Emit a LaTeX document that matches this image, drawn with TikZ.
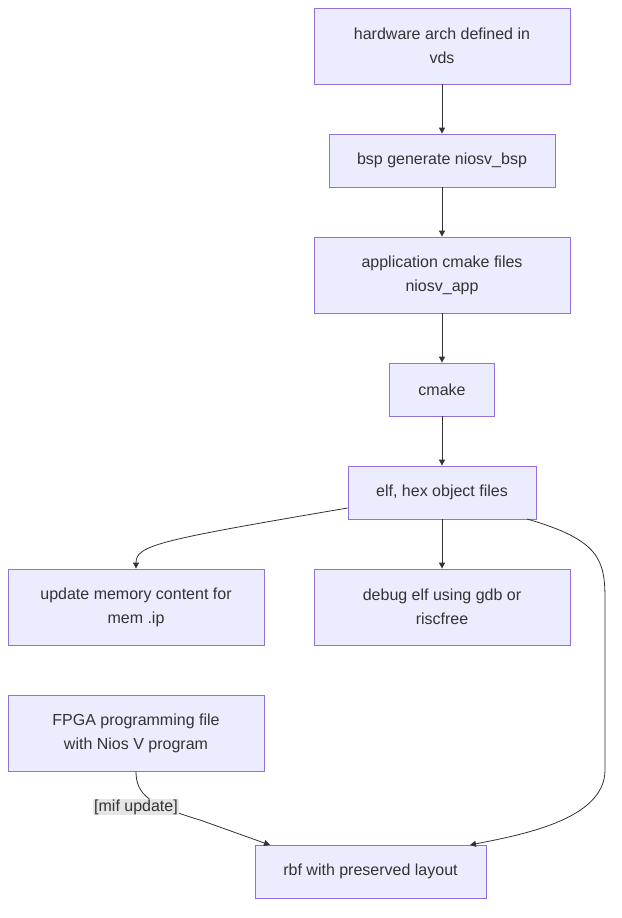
\documentclass[tikz,border=0pt]{standalone}
\usepackage{fontspec}
\setmainfont{Liberation Sans}
\usetikzlibrary{arrows.meta}
\definecolor{boxfill}{HTML}{ECECFF}
\definecolor{boxline}{HTML}{9370DB}
\definecolor{edge}{HTML}{333333}
\begin{document}
\begin{tikzpicture}[x=1pt, y=-1pt,
    stage/.style = {draw=boxline, fill=boxfill, line width=0.8pt, align=center,
        font=\fontsize{16}{24}\selectfont, text=edge, inner sep=0pt},
    flow/.style = {draw=edge, line width=0.8pt, -{Triangle[length=6pt,width=6pt]}}]

    \useasboundingbox (0,0) rectangle (621,918);

    % Boxes
    \node[stage, minimum width=256pt, minimum height=76pt] (hw) at (442,46) {hardware arch defined in\\vds};
    \node[stage, minimum width=226pt, minimum height=53pt] (bsp) at (442,160.5) {bsp generate niosv\_bsp};
    \node[stage, minimum width=256pt, minimum height=76pt] (app) at (442,275) {application cmake files\\niosv\_app};
    \node[stage, minimum width=105pt, minimum height=53pt] (cm) at (442,389.5) {cmake};
    \node[stage, minimum width=188pt, minimum height=53pt] (elf) at (442,492.5) {elf, hex object files};
    \node[stage, minimum width=256pt, minimum height=76pt] (mem) at (136,607) {update memory content for\\mem .ip};
    \node[stage, minimum width=256pt, minimum height=76pt] (dbg) at (442,607) {debug elf using gdb or\\riscfree};
    \node[stage, minimum width=256pt, minimum height=76pt] (fpga) at (136,733) {FPGA programming file\\with Nios V program};
    \node[stage, minimum width=231pt, minimum height=53pt] (rbf) at (370.5,871.5) {rbf with preserved layout};

    % Arrows
    \draw[flow] (hw) -- (bsp);
    \draw[flow] (bsp) -- (app);
    \draw[flow] (app) -- (cm);
    \draw[flow] (cm) -- (elf);
    \draw[flow] (elf) -- (dbg);
    \draw[flow] (elf.west |- 0,508) .. controls (160,540) and (136,545) .. (mem.north);
    \draw[flow] (527,519) .. controls (600,540) and (605,560) .. (605,600)
        -- (605,770) .. controls (605,820) and (520,835) .. (470,845);
    \draw[flow] (fpga.south) .. controls (136,795) and (150,805) .. (200,820)
        -- (270,845);
    \node[fill=black!10, inner sep=1pt, font=\fontsize{16}{20}\selectfont, text=edge] (mif) at (136,807) {[mif update]};

\end{tikzpicture}
\end{document}
